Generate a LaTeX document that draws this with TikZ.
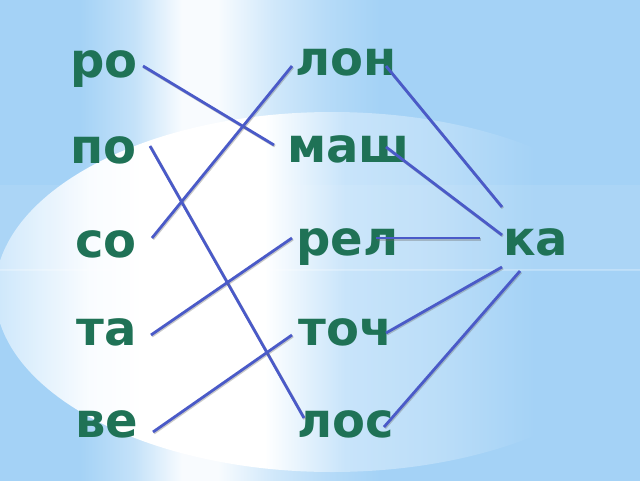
\documentclass[tikz,border=0pt]{standalone}
\usepackage{fontspec}
\newfontfamily\wordfont{DejaVu Sans}
\definecolor{bg}{RGB}{164,210,246}
\definecolor{ellL}{RGB}{205,231,251}
\definecolor{ellM}{RGB}{200,228,250}
\definecolor{txt}{RGB}{31,114,86}
\definecolor{lnk}{RGB}{74,90,200}
\pgfdeclarehorizontalshading{ellsh}{100bp}{color(0bp)=(ellL); color(25bp)=(ellL); color(32bp)=(white!88!ellL); color(36bp)=(white); color(45bp)=(white); color(51bp)=(ellM); color(58bp)=(bg!75!white); color(65bp)=(bg); color(100bp)=(bg)}
\pgfdeclarehorizontalshading{glowsh}{100bp}{color(0bp)=(bg); color(25bp)=(bg); color(34bp)=(bg!65!white); color(42bp)=(white!92!bg); color(48bp)=(white!92!bg); color(57bp)=(bg!50!white); color(66bp)=(bg!80!white); color(75bp)=(bg); color(100bp)=(bg)}
\tikzset{
  word/.style={font=\wordfont\bfseries\fontsize{48}{48}\selectfont, text=txt, inner sep=0pt, anchor=base west},
  link/.style={draw=lnk, line width=2.8pt,
    preaction={draw=black!60, line width=2.8pt, opacity=0.35, transform canvas={shift={(0.9pt,-1.1pt)}}}}
}
\begin{document}
\begin{tikzpicture}[x=1pt,y=-1pt]
\useasboundingbox (0,0) rectangle (640,480);
% background
\fill[bg] (-2,-2) rectangle (642,482);
\shade[shading=glowsh] (80,-2) rectangle (380,482);
\shade[shading=ellsh] (332,292) ellipse [x radius=337, y radius=180];
\fill[white, opacity=0.08] (0,185) rectangle (640,270);
\fill[white, opacity=0.25] (0,269) rectangle (640,271);
% words
\node[word] (ro)  at (70,77)  {ро};
\node[word] (po)  at (70,163) {по};
\node[word] (so)  at (75,257) {со};
\node[word] (ta)  at (76,345) {та};
\node[word] (ve)  at (75,437) {ве};
\node[word] (lon) at (295,75)  {лон};
\node[word] (mash) at (287,162) {маш};
\node[word] (rel) at (296,255) {рел};
\node[word] (toch) at (298,345) {точ};
\node[word] (los) at (297,437) {лос};
\node[word] (ka)  at (503,255) {ка};
% connector ends
\coordinate (ro-r)   at (143,66);
\coordinate (mash-l) at (274,145);
\coordinate (lon-l)  at (292,66);
\coordinate (so-r)   at (152,238);
\coordinate (po-r)   at (150,146);
\coordinate (los-l)  at (304,418);
\coordinate (ta-r)   at (151,335);
\coordinate (rel-l)  at (292,238);
\coordinate (ve-r)   at (153,432);
\coordinate (toch-l) at (292,335);
\coordinate (lon-r)  at (386,66);
\coordinate (mash-r) at (386,147);
\coordinate (rel-r)  at (376,238);
\coordinate (toch-r) at (386,333);
\coordinate (los-r)  at (384,427);
\coordinate (ka-a)   at (502,207);
\coordinate (ka-b)   at (502,235);
\coordinate (ka-c)   at (480,238);
\coordinate (ka-d)   at (502,267);
\coordinate (ka-e)   at (520,271);
% connectors
\draw[link] (ro-r) -- (mash-l);
\draw[link] (lon-l) -- (so-r);
\draw[link] (po-r) -- (los-l);
\draw[link] (ta-r) -- (rel-l);
\draw[link] (ve-r) -- (toch-l);
\draw[link] (lon-r) -- (ka-a);
\draw[link] (mash-r) -- (ka-b);
\draw[link] (rel-r) -- (ka-c);
\draw[link] (toch-r) -- (ka-d);
\draw[link] (los-r) -- (ka-e);
\end{tikzpicture}
\end{document}
